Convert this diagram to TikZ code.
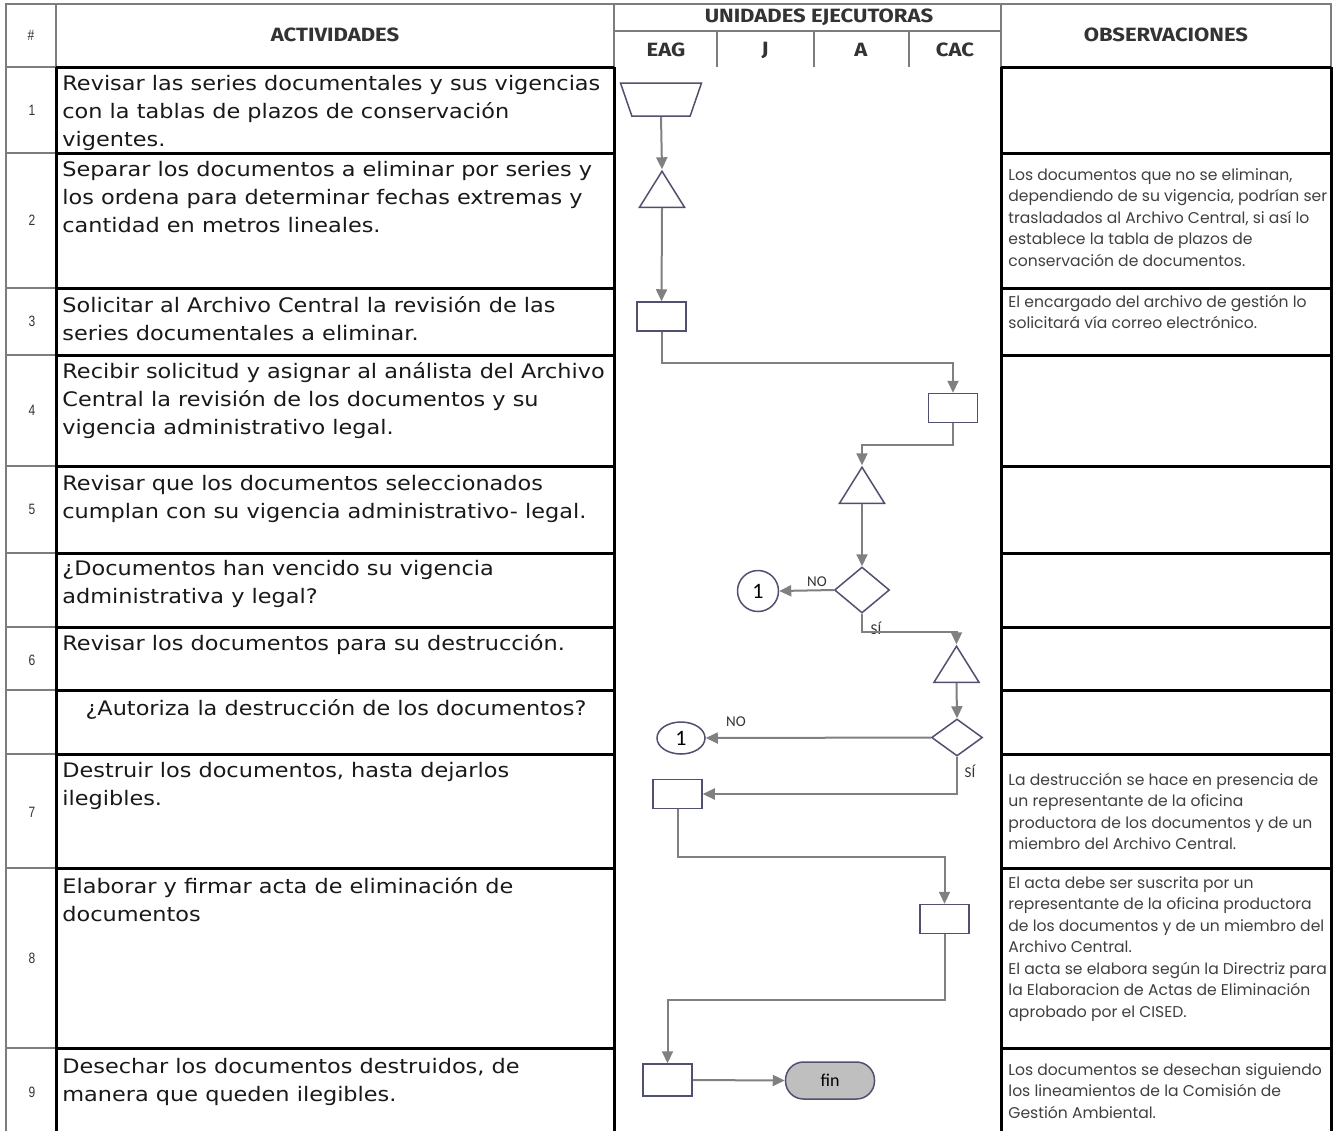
\documentclass[tikz,border=0pt]{standalone}
\usepackage{fontspec}
\usepackage{tikz}
\usetikzlibrary{shapes.geometric,arrows.meta}
\setmainfont{DejaVu Sans}[FakeStretch=1.12]
\newfontfamily\obsfont{Poppins}
\newfontfamily\headfont{Fira Sans}[FakeStretch=1.15]
\newfontfamily\numfont[FakeStretch=0.8]{Liberation Sans}
\newfontfamily\lblfont{Carlito}
\newcommand{\renglones}[1]{\begin{tabular}[t]{@{}l@{}}#1\end{tabular}}
\definecolor{borde}{RGB}{80,80,112}
\definecolor{gris}{RGB}{128,128,128}
\definecolor{rejilla}{RGB}{125,125,125}
\definecolor{textoobs}{RGB}{64,64,64}
\tikzstyle{caja} = [draw=borde, line width=0.75pt, rectangle, fill=white, minimum width=24.5pt, minimum height=14.5pt, inner sep=0pt]
\tikzstyle{triangulo} = [draw=borde, line width=0.75pt, isosceles triangle, isosceles triangle stretches, shape border rotate=90, minimum width=22.5pt, minimum height=18pt, inner sep=1pt, anchor=south]
\tikzstyle{rombo} = [draw=borde, line width=0.75pt, diamond, minimum width=27.5pt, minimum height=23pt, inner sep=0pt]
\tikzstyle{trapecio} = [draw=borde, line width=0.75pt, trapezium, trapezium stretches=true, shape border rotate=180, trapezium left angle=79, trapezium right angle=79, minimum width=40.5pt, minimum height=16.5pt, inner sep=1pt]
\tikzstyle{conector} = [draw=borde, line width=0.75pt, ellipse, inner sep=0pt, font=\lblfont\fontsize{11}{12}\selectfont]
\tikzstyle{terminal} = [draw=borde, line width=0.75pt, fill=gray!50, rectangle, rounded corners=9pt, minimum width=44.5pt, minimum height=18.5pt, font=\lblfont\fontsize{9}{10}\selectfont]
\tikzstyle{flecha} = [draw=gris, line width=1pt, -{Triangle[length=6pt,width=5.5pt]}]
\tikzstyle{etiqueta} = [inner sep=0pt, font=\lblfont\fontsize{7.5}{8}\selectfont, text=black!80]
\tikzstyle{actividad} = [anchor=base west, inner sep=0pt, font=\fontsize{10}{14}\selectfont, text=black!90]
\tikzstyle{observacion} = [anchor=base west, inner sep=0pt, font=\obsfont\fontsize{7.8}{10.75}\selectfont, text=textoobs]
\tikzstyle{numero} = [inner sep=0pt, font=\numfont\fontsize{7.5}{9}\selectfont, text=black!80]
\tikzstyle{encabezado} = [inner sep=0pt, font=\headfont\bfseries\fontsize{9.6}{11}\selectfont, text=black!80]
\tikzstyle{negra} = [line width=1.5pt, black]
\tikzstyle{gruesa} = [line width=1.25pt, rejilla]

\begin{document}
\begin{tikzpicture}[x=0.5pt, y=-0.5pt]
	\fill[white] (0,0) rectangle (1333,1131);
	\useasboundingbox (0,0) rectangle (1333,1131);
	% encabezados
	\node[numero] (hnum) at (31,35) {\#};
	\node[encabezado] (hact) at (335,35) {ACTIVIDADES};
	\node[encabezado] (huni) at (819,17) {UNIDADES EJECUTORAS};
	\node[encabezado] (heag) at (666,50) {EAG};
	\node[encabezado] (hj) at (765,50) {J};
	\node[encabezado] (ha) at (861,50) {A};
	\node[encabezado] (hcac) at (955,50) {CAC};
	\node[encabezado] (hobs) at (1166,35) {OBSERVACIONES};
	% numeros
	\node[numero] (n1) at (32,110) {1};
	\node[numero] (n2) at (32,220) {2};
	\node[numero] (n3) at (32,321) {3};
	\node[numero] (n4) at (32,410) {4};
	\node[numero] (n5) at (32,509) {5};
	\node[numero] (n6) at (32,660) {6};
	\node[numero] (n7) at (32,812) {7};
	\node[numero] (n8) at (32,958) {8};
	\node[numero] (n9) at (32,1092) {9};
	% actividades
	\node[actividad] (act1) at (62,90) {\renglones{Revisar las series documentales y sus vigencias\\con la tablas de plazos de conservación\\vigentes.}};
	\node[actividad] (act2) at (62,176) {\renglones{Separar los documentos a eliminar por series y\\los ordena para determinar fechas extremas y\\cantidad en metros lineales.}};
	\node[actividad] (act3) at (62,312) {\renglones{Solicitar al Archivo Central la revisión de las\\series documentales a eliminar.}};
	\node[actividad] (act4) at (62,378) {\renglones{Recibir solicitud y asignar al análista del Archivo\\Central la revisión de los documentos y su\\vigencia administrativo legal.}};
	\node[actividad] (act5) at (62,490) {\renglones{Revisar que los documentos seleccionados\\cumplan con su vigencia administrativo- legal.}};
	\node[actividad] (preg1) at (62,575) {\renglones{¿Documentos han vencido su vigencia\\administrativa y legal?}};
	\node[actividad] (act6) at (62,650) {Revisar los documentos para su destrucción.};
	\node[actividad, anchor=base] (preg2) at (336,715) {¿Autoriza la destrucción de los documentos?};
	\node[actividad] (act7) at (62,777) {\renglones{Destruir los documentos, hasta dejarlos\\ilegibles.}};
	\node[actividad] (act8) at (62,893) {\renglones{Elaborar y firmar acta de eliminación de\\documentos}};
	\node[actividad] (act9) at (62,1073) {\renglones{Desechar los documentos destruidos, de\\manera que queden ilegibles.}};
	% observaciones
	\node[observacion] (obs2) at (1008,180) {\renglones{Los documentos que no se eliminan,\\dependiendo de su vigencia, podrían ser\\trasladados al Archivo Central, si así lo\\establece la tabla de plazos de\\conservación de documentos.}};
	\node[observacion] (obs3) at (1008,307) {\renglones{El encargado del archivo de gestión lo\\solicitará vía correo electrónico.}};
	\node[observacion] (obs7) at (1008,785) {\renglones{La destrucción se hace en presencia de\\un representante de la oficina\\productora de los documentos y de un\\miembro del Archivo Central.}};
	\node[observacion] (obs8) at (1008,888) {\renglones{El acta debe ser suscrita por un\\representante de la oficina productora\\de los documentos y de un miembro del\\Archivo Central.\\El acta se elabora según la Directriz para\\la Elaboracion de Actas de Eliminación\\aprobado por el CISED.}};
	\node[observacion] (obs9) at (1008,1075) {\renglones{Los documentos se desechan siguiendo\\los lineamientos de la Comisión de\\Gestión Ambiental.}};
	% rejilla
	\draw[gruesa] (6,1131) -- (6,4) -- (1331,4) -- (1331,67);
	\draw[gruesa] (56,4) -- (56,67);
	\draw[gruesa] (614,4) -- (614,67);
	\draw[gruesa] (1001,4) -- (1001,67);
	\draw[gruesa] (614,31) -- (1001,31);
	\foreach \x in {717,814,909}
		\draw[gruesa] (\x,31) -- (\x,67);
	\foreach \y in {67,153,288,355,466,553,627,690,754,868,1048}{
		\draw[gruesa] (6,\y) -- (56,\y);
		\draw[negra] (56,\y) -- (614,\y);
		\draw[negra] (1001,\y) -- (1331,\y);
	}
	\foreach \x in {56,614,1001,1331}
		\draw[negra] (\x,67) -- (\x,1131);
	% diagrama
	\node[trapecio] (inicio) at (661,99.5) {};
	\node[triangulo] (arch1) at (662,208) {};
	\node[caja] (solicitud) at (661.5,316.5) {};
	\node[caja] (recibir) at (953,408) {};
	\node[triangulo] (arch2) at (862,504) {};
	\node[rombo] (vencido) at (862,590) {};
	\node[conector, minimum width=20.5pt, minimum height=20.5pt] (con1) at (758,591) {1};
	\node[triangulo] (arch3) at (956.5,683) {};
	\node[rombo, minimum width=25.5pt, minimum height=18.5pt] (autoriza) at (957,737.5) {};
	\node[conector, minimum width=24pt, minimum height=16pt] (con2) at (681,738) {1};
	\node[caja] (destruir) at (677.5,794) {};
	\node[caja] (acta) at (944.5,919) {};
	\node[caja, minimum height=16pt] (desechar) at (667.5,1080) {};
	\node[terminal] (fin) at (830,1080.5) {fin};
	\node[etiqueta] (no1) at (817,582) {NO};
	\node[etiqueta] (si1) at (876,628) {SÍ};
	\node[etiqueta] (no2) at (736,722) {NO};
	\node[etiqueta] (si2) at (970,771) {SÍ};
	\draw[flecha] (inicio.south) -- (arch1.apex);
	\draw[flecha] (arch1.south) -- (solicitud.north);
	\draw[flecha] (solicitud.south) -- ++(0,31) -| (recibir.north);
	\draw[flecha] (recibir.south) -- ++(0,22) -| (arch2.apex);
	\draw[flecha] (arch2.south) -- (vencido.north);
	\draw[flecha] (vencido.west) -- (con1.east);
	\draw[flecha] (vencido.south) -- ++(0,18) -| (arch3.apex);
	\draw[flecha] (arch3.south) -- (autoriza.north);
	\draw[flecha] (autoriza.west) -- (con2.east);
	\draw[flecha] (autoriza.south) |- (destruir.east);
	\draw[flecha] (destruir.south) -- ++(0,48) -| (acta.north);
	\draw[flecha] (acta.south) -- ++(0,66) -| (desechar.north);
	\draw[flecha] (desechar.east) -- (fin.west);
\end{tikzpicture}
\end{document}
